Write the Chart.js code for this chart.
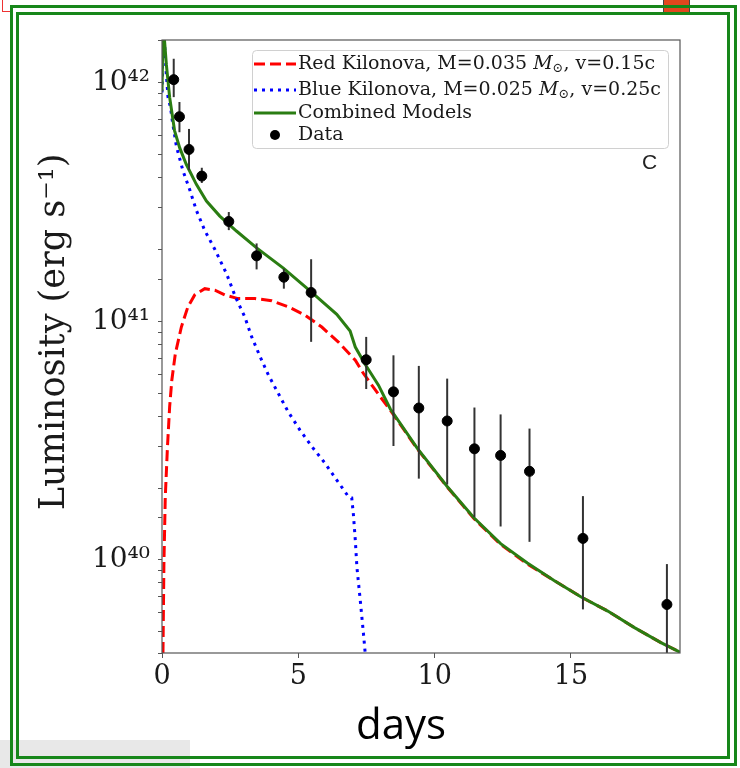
<!DOCTYPE html>
<html>
<head>
<meta charset="utf-8">
<script src="https://cdn.jsdelivr.net/npm/chart.js@4.4.0/dist/chart.umd.min.js"></script>
<style>
  html, body { margin: 0; padding: 0; background: #fff; }
  body { width: 740px; height: 768px; position: relative; overflow: hidden; }
  #chart { position: absolute; left: 0; top: 0; }
  .frame { position: absolute; border: 3px solid #17871a; box-sizing: border-box; }
</style>
</head>
<body>
<canvas id="chart" width="740" height="768"></canvas>
<div style="position:absolute;left:0;top:740px;width:190px;height:28px;background:#e8e8e8"></div>
<div style="position:absolute;left:2px;top:-2px;width:9px;height:13px;border-left:1.5px solid #e33;border-bottom:1.5px solid #e33"></div>
<div style="position:absolute;left:663px;top:0;width:25px;height:12px;background:#e2471d;border:1px solid #444;border-top:0"></div>
<div class="frame" style="left:10px;top:5px;width:727px;height:761px"></div>
<div class="frame" style="left:16px;top:12px;width:714px;height:747px"></div>
<script>
// light curve models (days, erg/s)
const redDays = [0, 0.03, 0.07, 0.12, 0.20, 0.28, 0.36, 0.49, 0.71, 0.95, 1.20, 1.57, 1.94, 2.30, 2.79, 3.41, 4.02, 4.63, 5.25, 5.86, 6.47, 7.09, 7.39, 8.01, 8.37, 9.36, 10.46, 11.44, 12.42, 13.40, 14.38, 15.36, 16.35, 17.33, 18.30, 19.0]
const redLum = [1e38, 3.5e39, 9.6e39, 1.83e40, 2.97e40, 4.38e40, 5.66e40, 7.33e40, 9.46e40, 1.15e41, 1.29e41, 1.37e41, 1.35e41, 1.29e41, 1.245e41, 1.245e41, 1.22e41, 1.15e41, 1.06e41, 9.46e40, 8.18e40, 6.87e40, 6.04e40, 4.82e40, 4.25e40, 2.92e40, 2.02e40, 1.49e40, 1.16e40, 9.6e39, 8.2e39, 7.0e39, 6.1e39, 5.2e39, 4.5e39, 4.1e39]

const blueDays = [0, 0.05, 0.15, 0.22, 0.31, 0.38, 0.53, 0.77, 1.02, 1.26, 1.57, 1.94, 2.37, 2.70, 3.04, 3.29, 3.60, 3.90, 4.26, 4.63, 5.06, 5.49, 5.98, 6.41, 6.84, 6.96, 7.02, 7.09, 7.15, 7.27, 7.39, 7.45, 7.55]
const blueLum = [9.1e41, 1.8e42, 1.12e42, 8.7e41, 7.9e41, 6.9e41, 5.4e41, 4.27e41, 3.55e41, 2.92e41, 2.4e41, 2.0e41, 1.58e41, 1.26e41, 1.04e41, 8.6e40, 7.1e40, 5.96e40, 5.0e40, 4.17e40, 3.5e40, 2.99e40, 2.54e40, 2.16e40, 1.84e40, 1.82e40, 1.55e40, 1.21e40, 9.3e39, 6.8e39, 4.9e39, 4.1e39, 1e38]

const greenDays = [0, 0.04, 0.16, 0.28, 0.46, 0.65, 0.89, 1.26, 1.63, 2.12, 2.73, 3.47, 4.45, 5.43, 6.41, 6.90, 7.09, 7.45, 7.94, 8.37, 9.36, 10.46, 11.44, 12.42, 13.40, 14.38, 15.36, 16.35, 17.33, 18.30, 19.0]
const greenLum = [9.2e41, 1.8e42, 1.19e42, 8.7e41, 6.3e41, 5.33e41, 4.55e41, 3.75e41, 3.19e41, 2.76e41, 2.39e41, 2.03e41, 1.67e41, 1.34e41, 1.07e41, 9.1e40, 7.8e40, 6.6e40, 5.4e40, 4.3e40, 2.94e40, 2.03e40, 1.5e40, 1.17e40, 9.7e39, 8.2e39, 7.0e39, 6.1e39, 5.2e39, 4.5e39, 4.1e39]

// observed points with error bars
const dataDays = [0.43, 0.64, 0.99, 1.46, 2.45, 3.47, 4.47, 5.47, 7.49, 8.49, 9.42, 10.46, 11.46, 12.42, 13.48, 15.44, 18.52]
const dataLum = [1.03e42, 7.2e41, 5.25e41, 4.06e41, 2.62e41, 1.88e41, 1.53e41, 1.32e41, 6.9e40, 5.06e40, 4.33e40, 3.82e40, 2.92e40, 2.74e40, 2.35e40, 1.23e40, 6.5e39]
const errHigh = [1.26e42, 8.3e41, 6.4e41, 4.4e41, 2.87e41, 2.12e41, 1.66e41, 1.82e41, 8.6e40, 7.2e40, 6.5e40, 5.75e40, 4.35e40, 4.07e40, 3.55e40, 1.85e40, 9.6e39]
const errLow = [8.7e41, 6.2e41, 4.3e41, 3.8e41, 2.41e41, 1.65e41, 1.37e41, 8.2e40, 5.2e40, 3.0e40, 2.19e40, 2.07e40, 1.51e40, 1.38e40, 1.19e40, 6.2e39, 3.5e39]

const yTickValues = [1e40, 1e41, 1e42]
const yTickLabels = ['10⁴⁰', '10⁴¹', '10⁴²']
const yTitle = 'Luminosity (erg s⁻¹)'

const legendLabels = [
  [{ t: 'Red Kilonova, M=0.035 ' }, { t: 'M', it: true }, { t: '⊙', sub: true }, { t: ', v=0.15c' }],
  [{ t: 'Blue Kilonova, M=0.025 ' }, { t: 'M', it: true }, { t: '⊙', sub: true }, { t: ', v=0.25c' }],
  [{ t: 'Combined Models' }],
  [{ t: 'Data' }]
]

const RED = '#ff0000', BLUE = '#0000ff', GREEN = '#2a7d12'
const serif = '"DejaVu Serif", serif'

const toXY = (xs, ys) => xs.map((x, i) => ({ x: x, y: ys[i] }))

function drawRich(ctx, parts, x, y) {
  for (const p of parts) {
    ctx.font = (p.it ? 'italic ' : '') + (p.sub ? '13px ' : '19px ') + serif
    ctx.fillText(p.t, x, y + (p.sub ? 5 : 0))
    x += ctx.measureText(p.t).width
  }
}

const extras = {
  id: 'extras',
  beforeDatasetDraw(chart, args) {
    if (args.index !== 3) return
    const { ctx, chartArea: a, scales: { x, y } } = chart
    ctx.save()
    ctx.beginPath()
    ctx.rect(a.left, a.top, a.right - a.left, a.bottom - a.top)
    ctx.clip()
    ctx.strokeStyle = '#333'
    ctx.lineWidth = 2
    for (let i = 0; i < dataDays.length; i++) {
      const px = x.getPixelForValue(dataDays[i])
      ctx.beginPath()
      ctx.moveTo(px, y.getPixelForValue(errLow[i]))
      ctx.lineTo(px, y.getPixelForValue(errHigh[i]))
      ctx.stroke()
    }
    ctx.restore()
  },
  afterDraw(chart) {
    const { ctx, chartArea: a } = chart
    ctx.save()
    // axes box
    ctx.strokeStyle = '#555'
    ctx.lineWidth = 1.2
    ctx.strokeRect(a.left, a.top, a.right - a.left, a.bottom - a.top)

    // y axis title, a bit above the middle like the original
    ctx.save()
    ctx.translate(55, 332)
    ctx.rotate(-Math.PI / 2)
    ctx.textAlign = 'center'
    ctx.textBaseline = 'middle'
    ctx.fillStyle = '#1a1a1a'
    ctx.font = '35px ' + serif
    ctx.fillText(yTitle, 0, 0)
    ctx.restore()

    // legend box
    ctx.beginPath()
    ctx.roundRect(252.5, 50.5, 416, 98, 4)
    ctx.fillStyle = 'rgba(255,255,255,0.85)'
    ctx.fill()
    ctx.strokeStyle = '#d0d0d0'
    ctx.lineWidth = 1
    ctx.stroke()

    const rows = [64, 90, 113, 135]
    const styles = [
      { c: RED, dash: [11, 5] },
      { c: BLUE, dash: [3, 5] },
      { c: GREEN, dash: [] },
      null
    ]
    ctx.textBaseline = 'middle'
    ctx.fillStyle = '#1a1a1a'
    rows.forEach((ry, i) => {
      const s = styles[i]
      if (s) {
        ctx.beginPath()
        ctx.setLineDash(s.dash)
        ctx.strokeStyle = s.c
        ctx.lineWidth = 3
        ctx.moveTo(254, ry)
        ctx.lineTo(296, ry)
        ctx.stroke()
        ctx.setLineDash([])
      } else {
        ctx.beginPath()
        ctx.arc(275, ry, 5, 0, Math.PI * 2)
        ctx.fillStyle = '#000'
        ctx.fill()
        ctx.fillStyle = '#1a1a1a'
      }
      drawRich(ctx, legendLabels[i], 298, ry)
    })

    // panel letter and slide axis label
    ctx.textBaseline = 'alphabetic'
    ctx.fillStyle = '#222'
    ctx.font = '21px "Liberation Sans", sans-serif'
    ctx.fillText('C', 642, 169)
    ctx.fillStyle = '#000'
    ctx.font = '42px "Open Sans", sans-serif'
    ctx.textAlign = 'center'
    ctx.fillText('days', 401, 739)
    ctx.restore()
  }
}

const chart = new Chart(document.getElementById('chart'), {
  type: 'line',
  data: {
    datasets: [
      { data: toXY(redDays, redLum), borderColor: RED, borderWidth: 3, borderDash: [11, 5], pointRadius: 0, tension: 0, clip: 0, order: 3 },
      { data: toXY(blueDays, blueLum), borderColor: BLUE, borderWidth: 3, borderDash: [3, 5], pointRadius: 0, tension: 0, clip: 0, order: 2 },
      { data: toXY(greenDays, greenLum), borderColor: GREEN, borderWidth: 3, pointRadius: 0, tension: 0, clip: 0, order: 1 },
      { type: 'scatter', data: toXY(dataDays, dataLum), backgroundColor: '#000', borderColor: '#000', pointRadius: 5, showLine: false, order: 0 }
    ]
  },
  options: {
    responsive: false,
    animation: false,
    layout: { padding: { top: 40, right: 60, left: 0, bottom: 0 } },
    plugins: { legend: { display: false }, tooltip: { enabled: false } },
    scales: {
      x: {
        type: 'linear',
        min: 0,
        max: 19,
        border: { display: false },
        grid: { drawOnChartArea: false, tickLength: 5, tickColor: '#555' },
        ticks: { stepSize: 5, includeBounds: false, color: '#1a1a1a', padding: 3, font: { family: serif, size: 27 } },
        afterFit: s => { s.height = 115 }
      },
      y: {
        type: 'logarithmic',
        min: 4.07e39,
        max: 1.51e42,
        border: { display: false },
        grid: { drawOnChartArea: false, tickLength: 4, tickColor: '#555' },
        ticks: {
          autoSkip: false,
          color: '#1a1a1a',
          padding: 8,
          font: { family: serif, size: 28 },
          callback: v => {
            const k = yTickValues.findIndex(t => Math.abs(t - v) / t < 1e-6)
            return k < 0 ? '' : yTickLabels[k]
          }
        },
        afterFit: s => { s.width = 162 }
      }
    }
  },
  plugins: [extras]
})
</script>
</body>
</html>
